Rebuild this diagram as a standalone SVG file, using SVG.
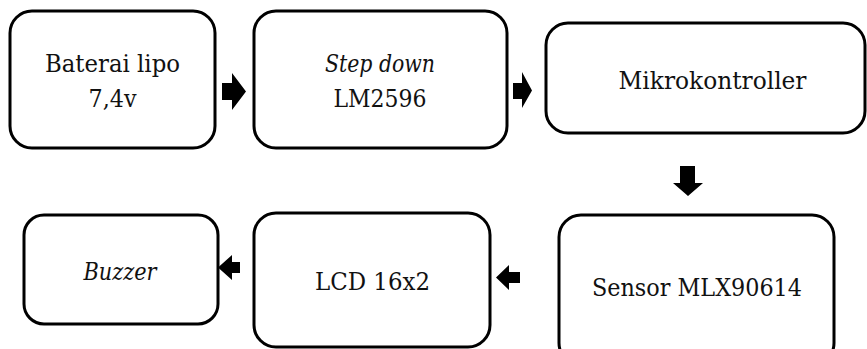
<svg xmlns="http://www.w3.org/2000/svg" width="867" height="349" viewBox="0 0 867 349">
<style>
.box{fill:#fff;stroke:#000;stroke-width:3}
.t{font-family:"DejaVu Serif","Liberation Serif",serif;font-size:24px;fill:#111;text-anchor:middle}
.i{font-style:italic}
.arr{fill:#000;stroke:none}
</style>
<rect width="867" height="349" fill="#fff"/>
<g id="baterai">
<rect class="box" x="10" y="11" width="205" height="137" rx="22"/>
<text class="t" x="112.5" y="72" textLength="135" lengthAdjust="spacingAndGlyphs">Baterai lipo</text>
<text class="t" x="112.5" y="107" textLength="48" lengthAdjust="spacingAndGlyphs">7,4v</text>
</g>
<g id="stepdown">
<rect class="box" x="254" y="11" width="253" height="137" rx="22"/>
<text class="t i" x="380" y="72" textLength="110" lengthAdjust="spacingAndGlyphs">Step down</text>
<text class="t" x="380" y="107" textLength="93" lengthAdjust="spacingAndGlyphs">LM2596</text>
</g>
<g id="mikro">
<rect class="box" x="546" y="23" width="319" height="110" rx="22"/>
<text class="t" x="712.5" y="89" textLength="188" lengthAdjust="spacingAndGlyphs">Mikrokontroller</text>
</g>
<g id="sensor">
<rect class="box" x="559" y="215" width="275" height="150" rx="22"/>
<text class="t" x="697" y="296" textLength="210" lengthAdjust="spacingAndGlyphs">Sensor MLX90614</text>
</g>
<g id="lcd">
<rect class="box" x="254" y="213" width="236" height="134" rx="22"/>
<text class="t" x="372.5" y="290" textLength="115" lengthAdjust="spacingAndGlyphs">LCD 16x2</text>
</g>
<g id="buzzer">
<rect class="box" x="24" y="215" width="194" height="109" rx="20"/>
<text class="t i" x="120" y="280" textLength="73" lengthAdjust="spacingAndGlyphs">Buzzer</text>
</g>
<g id="connectors">
<polygon class="arr" points="222,83 232,83 232,73 246,91.5 232,110 232,100 222,100"/>
<polygon class="arr" points="513,83 522,83 522,72 532,90.5 522,108 522,99 513,99"/>
<polygon class="arr" points="680,166 695,166 695,183 703,183 688,196 673,183 680,183"/>
<polygon class="arr" points="520,272 509,272 509,265 496,277.5 509,290 509,283 520,283"/>
<polygon class="arr" points="240,262 232,262 232,255 218,267.5 232,280 232,273 240,273"/>
</g>
</svg>
